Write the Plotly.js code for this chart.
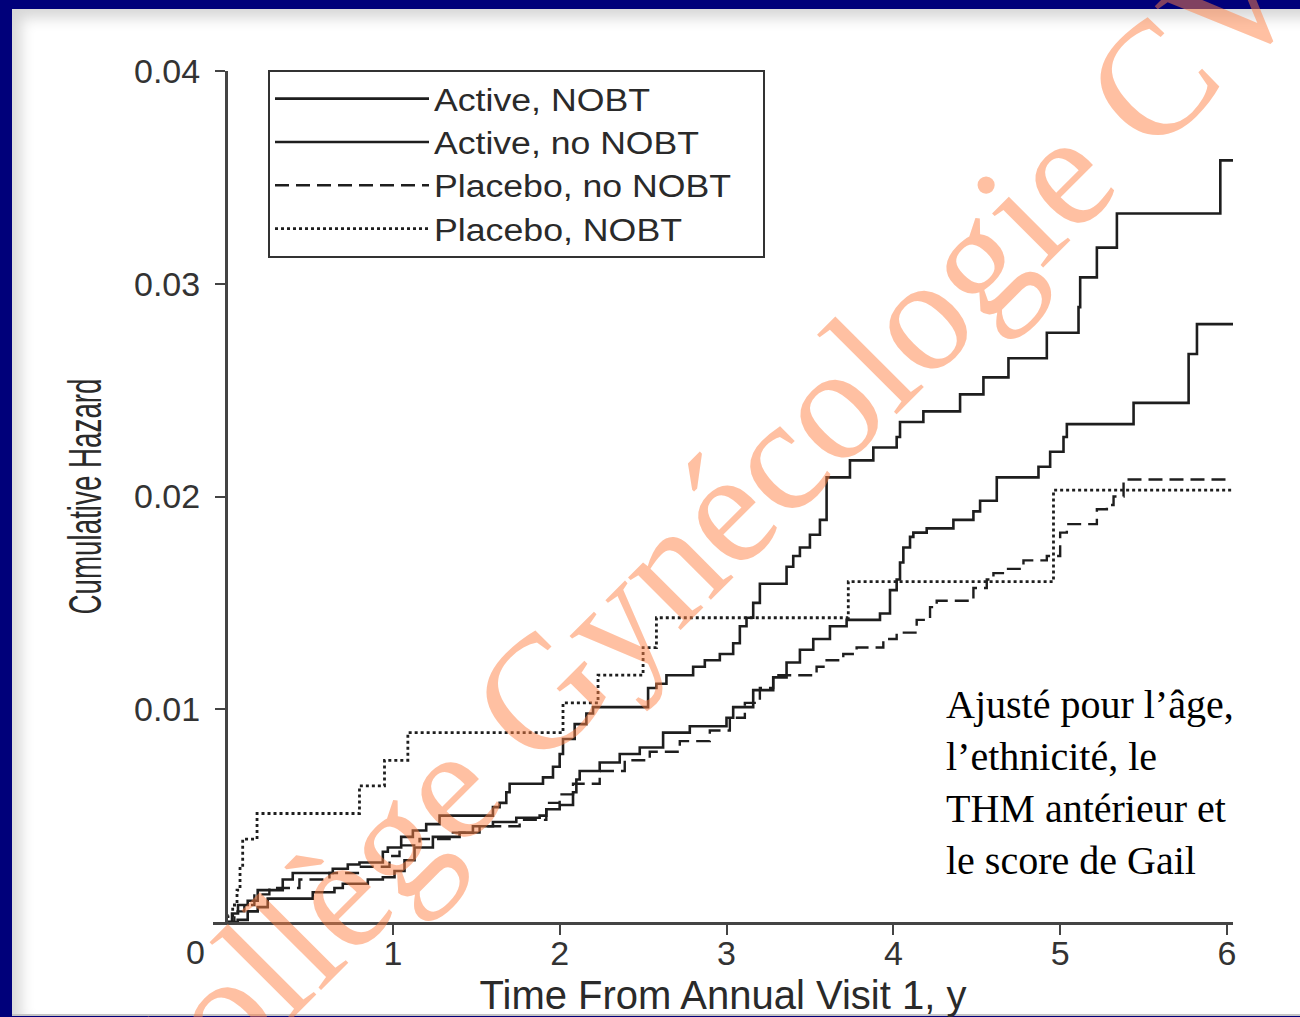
<!DOCTYPE html>
<html>
<head>
<meta charset="utf-8">
<script src="https://cdn.plot.ly/plotly-3.0.1.min.js"></script>
<style>
  html, body { margin:0; padding:0; width:1300px; height:1017px; overflow:hidden; background:#00007a; }
  #slide { position:absolute; left:12px; top:9px; width:1300px; height:1005px; background:#ffffff;
           box-shadow: inset 9px 9px 14px rgba(0,0,0,0.16); border-bottom:2px solid #c4c4c4; }
  #chart { position:absolute; left:0; top:0; width:1300px; height:1017px; }
</style>
</head>
<body>
<div id="slide"></div>
<div id="chart"></div>
<script>
// ---- data (time in years, cumulative hazard) ----
const seriesNames = ["Active, NOBT", "Active, no NOBT", "Placebo, no NOBT", "Placebo, NOBT"];

const activeNobtT = [0, 0.036, 0.072, 0.13, 0.19, 0.34, 0.40, 0.64, 0.73, 0.80, 0.94, 0.97, 1.05, 1.12, 1.20, 1.28, 1.60, 1.64, 1.68, 1.70, 1.90, 1.96, 2.00, 2.02, 2.09, 2.16, 2.20, 2.53, 2.58, 2.64, 2.80, 2.87, 2.96, 3.04, 3.08, 3.12, 3.16, 3.20, 3.36, 3.40, 3.44, 3.50, 3.56, 3.60, 3.74, 3.88, 4.02, 4.04, 4.18, 4.40, 4.54, 4.69, 4.92, 5.11, 5.12, 5.22, 5.34, 5.96, 6.04];
const activeNobtH = [0, 0.0004, 0.0008, 0.0010, 0.0015, 0.0020, 0.0023, 0.0025, 0.0027, 0.0028, 0.0033, 0.0035, 0.0040, 0.0043, 0.0046, 0.0050, 0.0054, 0.0056, 0.0061, 0.0065, 0.0068, 0.0073, 0.0079, 0.0086, 0.0093, 0.0098, 0.0101, 0.0110, 0.0112, 0.0116, 0.0120, 0.0123, 0.0126, 0.0131, 0.0139, 0.0143, 0.0150, 0.0159, 0.0167, 0.0172, 0.0176, 0.0182, 0.0189, 0.0209, 0.0217, 0.0223, 0.0228, 0.0235, 0.0240, 0.0248, 0.0256, 0.0265, 0.0277, 0.0289, 0.0303, 0.0317, 0.0333, 0.0358, 0.0358];

const activeNoNobtT = [0, 0.07, 0.13, 0.19, 0.25, 0.52, 0.65, 0.70, 0.85, 0.94, 1.01, 1.07, 1.13, 1.24, 1.40, 1.48, 1.60, 1.74, 1.88, 1.92, 2.00, 2.08, 2.10, 2.12, 2.24, 2.36, 2.48, 2.62, 2.78, 3.00, 3.04, 3.16, 3.28, 3.36, 3.44, 3.52, 3.62, 3.72, 3.92, 3.98, 4.02, 4.04, 4.06, 4.10, 4.12, 4.20, 4.36, 4.48, 4.52, 4.62, 4.87, 4.94, 5.02, 5.04, 5.44, 5.77, 5.82, 6.04];
const activeNoNobtH = [0, 0.0001, 0.0005, 0.0007, 0.0011, 0.0014, 0.0016, 0.0018, 0.0020, 0.0021, 0.0024, 0.0029, 0.0035, 0.0040, 0.0042, 0.0045, 0.0047, 0.0049, 0.0050, 0.0053, 0.0055, 0.0061, 0.0067, 0.0071, 0.0075, 0.0079, 0.0082, 0.0089, 0.0092, 0.0096, 0.0101, 0.0109, 0.0115, 0.0122, 0.0128, 0.0133, 0.0139, 0.0142, 0.0145, 0.0156, 0.0161, 0.0169, 0.0176, 0.0181, 0.0183, 0.0185, 0.0189, 0.0193, 0.0198, 0.0209, 0.0214, 0.0221, 0.0228, 0.0234, 0.0244, 0.0267, 0.0281, 0.0281];

const placeboNoNobtT = [0, 0.05, 0.11, 0.17, 0.26, 0.44, 0.62, 0.80, 0.98, 1.04, 1.16, 1.34, 1.52, 1.76, 1.92, 2.00, 2.08, 2.24, 2.39, 2.54, 2.72, 2.90, 3.02, 3.11, 3.20, 3.28, 3.54, 3.60, 3.70, 3.78, 3.94, 4.02, 4.14, 4.22, 4.26, 4.48, 4.56, 4.60, 4.68, 4.78, 4.92, 5.00, 5.04, 5.22, 5.28, 5.32, 5.38, 6.01];
const placeboNoNobtH = [0, 0.0005, 0.0008, 0.0013, 0.0016, 0.0020, 0.0023, 0.0026, 0.0031, 0.0036, 0.0039, 0.0042, 0.0045, 0.0048, 0.0056, 0.0060, 0.0065, 0.0071, 0.0076, 0.0080, 0.0085, 0.0090, 0.0096, 0.0103, 0.0110, 0.0116, 0.0120, 0.0123, 0.0126, 0.0129, 0.0133, 0.0136, 0.0142, 0.0148, 0.0151, 0.0157, 0.0161, 0.0164, 0.0166, 0.0170, 0.0172, 0.0183, 0.0187, 0.0194, 0.0196, 0.0200, 0.0208, 0.0208];

const placeboNobtT = [0, 0.012, 0.04, 0.066, 0.084, 0.10, 0.186, 0.80, 0.95, 1.09, 2.02, 2.23, 2.50, 2.58, 3.73, 4.96, 6.04];
const placeboNobtH = [0, 0.0003, 0.0008, 0.0015, 0.0026, 0.0039, 0.0051, 0.0064, 0.0076, 0.0089, 0.0103, 0.0116, 0.0129, 0.0143, 0.0160, 0.0203, 0.0203];

const xTickVals = [0, 1, 2, 3, 4, 5, 6];
const xTickText = ["0", "1", "2", "3", "4", "5", "6"];
const yTickVals = [0.01, 0.02, 0.03, 0.04];
const yTickText = ["0.01", "0.02", "0.03", "0.04"];

const xTitle = "Time From Annual Visit 1, y";
const yTitle = "Cumulative Hazard";
const noteText = "Ajusté pour l’âge,<br>l’ethnicité, le<br>THM antérieur et<br>le score de Gail";
const watermarkText = "Collège Gynécologie CVL";

// ---- drawing ----
const INK = "#1e1e1e";
const SANS = "Liberation Sans, Arial, Helvetica, sans-serif";
const SERIF = "Liberation Serif, Times New Roman, serif";

function stepTrace(name, t, h, dash, width) {
  return { type: "scatter", mode: "lines", name: name, x: t, y: h,
           line: { shape: "hv", color: INK, width: width, dash: dash }, hoverinfo: "skip" };
}

const traces = [
  stepTrace(seriesNames[0], activeNobtT, activeNobtH, "solid", 2.6),
  stepTrace(seriesNames[1], activeNoNobtT, activeNoNobtH, "solid", 2.6),
  stepTrace(seriesNames[2], placeboNoNobtT, placeboNoNobtH, "14px,7px", 2.4),
  stepTrace(seriesNames[3], placeboNobtT, placeboNobtH, "dot", 2.8)
];

// plot area in pixels
const L = 213, R = 67, T = 71, B = 95, W = 1300, H = 1017;
const PW = W - L - R, PH = H - T - B;
const px2paperX = p => (p - L) / PW;
const px2paperY = p => (H - B - p) / PH;
const LEGEND_RIGHT = 764;   // right edge of the legend frame in the reference

const layout = {
  width: W, height: H,
  margin: { l: L, r: R, t: T, b: B, pad: 0 },
  paper_bgcolor: "rgba(0,0,0,0)", plot_bgcolor: "rgba(0,0,0,0)",
  font: { family: SANS, color: "#333" },
  showlegend: true,
  legend: {
    x: px2paperX(268), y: px2paperY(70), xanchor: "left", yanchor: "top",
    bgcolor: "#ffffff", bordercolor: "#333", borderwidth: 2,
    font: { family: SANS, size: 31, color: "#2a2a2a" },
    itemwidth: 154, tracegroupgap: 0, traceorder: "normal"
  },
  xaxis: {
    range: [-0.078, 6.036], tickvals: xTickVals.slice(1), ticktext: xTickText.slice(1),
    ticks: "outside", ticklen: 10, tickwidth: 2, tickcolor: "#444", ticklabelstandoff: -10,
    showline: true, linecolor: "#444", linewidth: 2.5, showgrid: false, zeroline: false,
    tickfont: { family: SANS, size: 34, color: "#333" },
    title: { text: xTitle, font: { family: SANS, size: 40, color: "#2a2a2a" }, standoff: 14 }
  },
  yaxis: {
    range: [0, 0.04], anchor: "free", position: px2paperX(226),
    tickvals: yTickVals, ticktext: yTickText,
    ticks: "outside", ticklen: 10, tickwidth: 2, tickcolor: "#444", ticklabelstandoff: 8,
    showline: true, linecolor: "#444", linewidth: 2.5, showgrid: false, zeroline: false,
    tickfont: { family: SANS, size: 34, color: "#333" },
    title: { text: yTitle, font: { family: SANS, size: 46, color: "#2a2a2a" }, standoff: 17 }
  },
  annotations: [
    { text: xTickText[0], xref: "paper", yref: "paper", x: px2paperX(195), y: px2paperY(952),
      xanchor: "center", yanchor: "middle", showarrow: false,
      font: { family: SANS, size: 34, color: "#333" } },
    { text: noteText, xref: "paper", yref: "paper", x: px2paperX(944), y: px2paperY(680),
      xanchor: "left", yanchor: "top", align: "left", showarrow: false,
      font: { family: SERIF, size: 40, color: "#000" } },
    { text: watermarkText, xref: "paper", yref: "paper", x: px2paperX(728), y: px2paperY(505),
      xanchor: "center", yanchor: "middle", textangle: -45, showarrow: false,
      font: { family: SERIF, size: 162, color: "rgba(255,130,70,0.5)" } }
  ]
};

Plotly.newPlot("chart", traces, layout, { displayModeBar: false, staticPlot: true }).then(function (gd) {
  // the reference uses a condensed face for the y title: squeeze it to the same length
  const yt = gd.querySelector(".ytitle");
  if (yt) {
    yt.setAttribute("textLength", "236");
    yt.setAttribute("lengthAdjust", "spacingAndGlyphs");
  }
  // the reference legend lettering is a little wider than Liberation Sans
  gd.querySelectorAll(".legendtext").forEach(function (el) {
    const w = el.getComputedTextLength();
    el.setAttribute("textLength", String(Math.round(w * 1.15)));
    el.setAttribute("lengthAdjust", "spacingAndGlyphs");
  });
  // widen the legend frame (and its clip area) to the reference's width
  const bg = gd.querySelector(".legend rect.bg");
  if (bg) {
    const delta = LEGEND_RIGHT - bg.getBoundingClientRect().right;
    bg.setAttribute("width", String(parseFloat(bg.getAttribute("width")) + delta));
    document.querySelectorAll("clipPath[id^='legend'] rect").forEach(function (r) {
      r.setAttribute("width", String(parseFloat(r.getAttribute("width")) + delta));
    });
  }
});
</script>
</body>
</html>
